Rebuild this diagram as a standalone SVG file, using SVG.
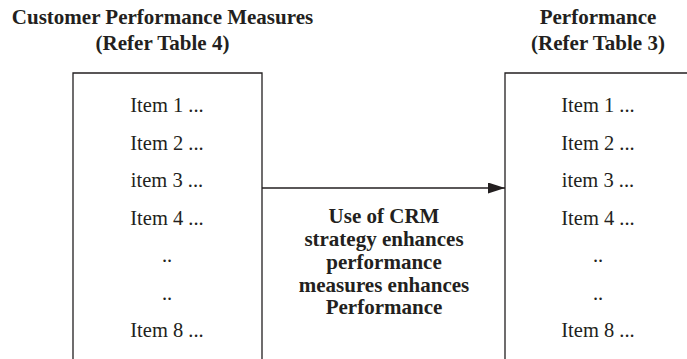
<svg xmlns="http://www.w3.org/2000/svg" width="687" height="359" viewBox="0 0 687 359">
<style>
.t{fill:#231f20;text-anchor:middle}
.b{font-weight:bold;font-size:21px}
.i{font-size:20.5px}
.box{fill:none;stroke:#231f20;stroke-width:1.3}
</style>
<defs>
<marker id="ah" markerWidth="17" markerHeight="11" refX="17" refY="5.5" orient="auto" markerUnits="userSpaceOnUse">
<path d="M0,0 L17,5.5 L0,11 Z" fill="#231f20"/>
</marker>
</defs>
<rect width="687" height="359" fill="#fff"/>
<g id="title-left">
<text class="t b" font-family="Liberation Serif" x="162.5" y="24">Customer Performance Measures</text>
<text class="t b" font-family="Liberation Serif" x="162.5" y="50">(Refer Table 4)</text>
</g>
<g id="title-right">
<text class="t b" font-family="Liberation Serif" x="598" y="24">Performance</text>
<text class="t b" font-family="Liberation Serif" x="598" y="50">(Refer Table 3)</text>
</g>
<g id="box-left">
<path class="box" d="M73,360 V73 H262 V360"/>
<text class="t i" font-family="Liberation Serif" x="167" y="112">Item 1 ...</text>
<text class="t i" font-family="Liberation Serif" x="167" y="149.5">Item 2 ...</text>
<text class="t i" font-family="Liberation Serif" x="167" y="187">item 3 ...</text>
<text class="t i" font-family="Liberation Serif" x="167" y="224.5">Item 4 ...</text>
<text class="t i" font-family="Liberation Serif" x="167" y="262">..</text>
<text class="t i" font-family="Liberation Serif" x="167" y="299.5">..</text>
<text class="t i" font-family="Liberation Serif" x="167" y="337">Item 8 ...</text>
</g>
<g id="box-right">
<path class="box" d="M505,360 V73 H690"/>
<text class="t i" font-family="Liberation Serif" x="598" y="112">Item 1 ...</text>
<text class="t i" font-family="Liberation Serif" x="598" y="149.5">Item 2 ...</text>
<text class="t i" font-family="Liberation Serif" x="598" y="187">item 3 ...</text>
<text class="t i" font-family="Liberation Serif" x="598" y="224.5">Item 4 ...</text>
<text class="t i" font-family="Liberation Serif" x="598" y="262">..</text>
<text class="t i" font-family="Liberation Serif" x="598" y="299.5">..</text>
<text class="t i" font-family="Liberation Serif" x="598" y="337">Item 8 ...</text>
</g>
<g id="connectors">
<line x1="262" y1="188" x2="505" y2="188" stroke="#231f20" stroke-width="1.3" marker-end="url(#ah)"/>
<text class="t b" font-family="Liberation Serif" x="384" y="223">Use of CRM</text>
<text class="t b" font-family="Liberation Serif" x="384" y="246">strategy enhances</text>
<text class="t b" font-family="Liberation Serif" x="384" y="269">performance</text>
<text class="t b" font-family="Liberation Serif" x="384" y="292">measures enhances</text>
<text class="t b" font-family="Liberation Serif" x="384" y="314">Performance</text>
</g>
</svg>
